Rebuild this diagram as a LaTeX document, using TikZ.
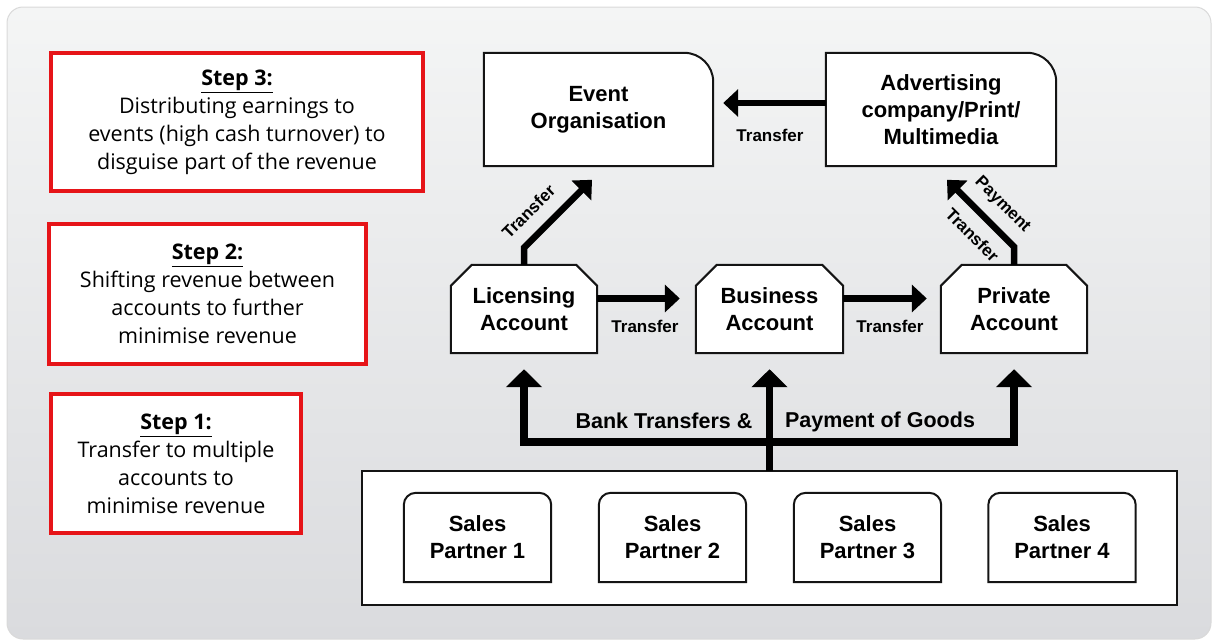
\documentclass[tikz,border=0pt]{standalone}
\usepackage{fontspec}
\setmainfont{Liberation Sans}
\newfontfamily\stepfont{Open Sans}
\usetikzlibrary{arrows.meta,calc}
\pgfdeclarelayer{panel}
\pgfdeclarelayer{boxes}
\pgfsetlayers{panel,boxes,main}
\definecolor{stepred}{RGB}{230,20,24}
\definecolor{ink}{RGB}{20,20,20}
\definecolor{paneltop}{RGB}{244,245,245}
\definecolor{panelbottom}{RGB}{218,219,222}

\begin{document}
\begin{tikzpicture}[x=1pt,y=1pt,
  stepbox/.style={draw=stepred, line width=4pt, fill=white, align=center, inner sep=0pt,
    font=\stepfont\fontsize{21.5}{28}\selectfont},
  slot/.style={inner sep=0pt, align=center, font=\fontsize{22}{27}\selectfont\bfseries},
  outline/.style={draw=ink, line width=2pt, fill=white, line join=miter},
  flow/.style={draw=black, line width=6.5pt, -{Triangle[width=27pt,length=15pt]}},
  upflow/.style={draw=black, line width=7.5pt, -{Triangle[width=35pt,length=18pt]}},
  lbl/.style={font=\fontsize{17}{18}\selectfont\bfseries, inner sep=0pt},
  barlbl/.style={font=\fontsize{21.5}{24}\selectfont\bfseries, inner sep=0pt},
]
\useasboundingbox (0,0) rectangle (1213,-641);

% panel behind everything
\begin{pgfonlayer}{panel}
  \path[shade, top color=paneltop, bottom color=panelbottom, draw=black!15,
        line width=1pt, rounded corners=16pt] (7,-7) rectangle (1211,-639);
\end{pgfonlayer}

% step descriptions
\node[stepbox, minimum width=372pt, minimum height=138pt] (s3) at (237,-122)
  {\textbf{\underline{Step 3:}}\\Distributing earnings to\\events (high cash turnover) to\\disguise part of the revenue};
\node[stepbox, minimum width=317pt, minimum height=140pt] (s2) at (207.5,-294)
  {\textbf{\underline{Step 2:}}\\Shifting revenue between\\accounts to further\\minimise revenue};
\node[stepbox, minimum width=250pt, minimum height=139pt] (s1) at (176,-463.5)
  {\textbf{\underline{Step 1:}}\\Transfer to multiple\\accounts to\\minimise revenue};

% entities
\node[slot, minimum width=229pt, minimum height=113pt] (ev) at (598.5,-109.5) {Event\\Organisation};
\node[slot, minimum width=230pt, minimum height=113pt] (adv) at (941,-109.5) {Advertising\\company/Print/\\Multimedia};
\node[slot, minimum width=146pt, minimum height=88pt] (lic) at (524,-309) {Licensing\\Account};
\node[slot, minimum width=147pt, minimum height=88pt] (biz) at (769.5,-309) {Business\\Account};
\node[slot, minimum width=146pt, minimum height=88pt] (priv) at (1014,-309) {Private\\Account};
\node[inner sep=0pt, minimum width=815pt, minimum height=134pt] (sales) at (769.5,-538) {};
\foreach \i/\x in {1/477.5,2/672.5,3/867.5,4/1062}
  \node[slot, minimum width=147pt, minimum height=89pt] (sp\i) at (\x,-537.5) {Sales\\Partner \i};

% box outlines
\begin{pgfonlayer}{boxes}
  \foreach \n in {ev,adv}
    \draw[outline] (\n.south west) -- (\n.north west) -- ([xshift=-29pt]\n.north east)
      .. controls ([xshift=-13pt]\n.north east) and ([yshift=-13pt]\n.north east) ..
      ([yshift=-29pt]\n.north east) -- (\n.south east) -- cycle;
  \foreach \n in {lic,biz,priv}
    \draw[outline] (\n.south west) -- ([yshift=-21pt]\n.north west) -- ([xshift=21pt]\n.north west)
      -- ([xshift=-21pt]\n.north east) -- ([yshift=-21pt]\n.north east) -- (\n.south east) -- cycle;
  \draw[outline] (sales.south west) rectangle (sales.north east);
  \foreach \i in {1,...,4}
    \draw[outline] (sp\i.south west) -- ([yshift=-12pt]sp\i.north west)
      .. controls ([yshift=-5.4pt]sp\i.north west) and ([xshift=5.4pt]sp\i.north west) ..
      ([xshift=12pt]sp\i.north west) -- ([xshift=-12pt]sp\i.north east)
      .. controls ([xshift=-5.4pt]sp\i.north east) and ([yshift=-5.4pt]sp\i.north east) ..
      ([yshift=-12pt]sp\i.north east) -- (sp\i.south east) -- cycle;
\end{pgfonlayer}

% money flows
\draw[flow] ([yshift=6.5pt]adv.west) -- ([xshift=10pt,yshift=6.5pt]ev.east)
  node[lbl, midway, below=23pt, xshift=-4.5pt] {Transfer};
\draw[flow] ([yshift=10.5pt]lic.east) -- ([xshift=-16pt,yshift=10.5pt]biz.west)
  node[lbl, midway, below=18.5pt, xshift=6.5pt] {Transfer};
\draw[flow] ([yshift=10.5pt]biz.east) -- ([xshift=-14pt,yshift=10.5pt]priv.west)
  node[lbl, midway, below=18.5pt, xshift=5pt] {Transfer};
\draw[flow] (lic.north) -- ++(0,17) -- node[lbl, pos=0.3, sloped, above=13pt] {Transfer} ++(68,68);
\draw[flow] (priv.north) -- ++(0,18)
  -- node[lbl, pos=0.4, sloped, above=10.5pt] {Payment}
     node[lbl, pos=0.4, sloped, below=11.5pt] {Transfer} ++(-67,67);

% incoming payments from the sales partners
\coordinate (hub) at ($(sales.north)+(0,29)$);
\draw[upflow] (sales.north) -- ([yshift=-16pt]biz.south);
\draw[upflow] (hub) -| ([yshift=-16pt]lic.south);
\draw[upflow] (hub) -| ([yshift=-16pt]priv.south);
\node[barlbl] (bt) at ($(hub)+(-105.5,21)$) {Bank Transfers \&};
\node[barlbl] (pg) at ($(hub)+(110.5,20)$) {Payment of Goods};
\end{tikzpicture}
\end{document}
